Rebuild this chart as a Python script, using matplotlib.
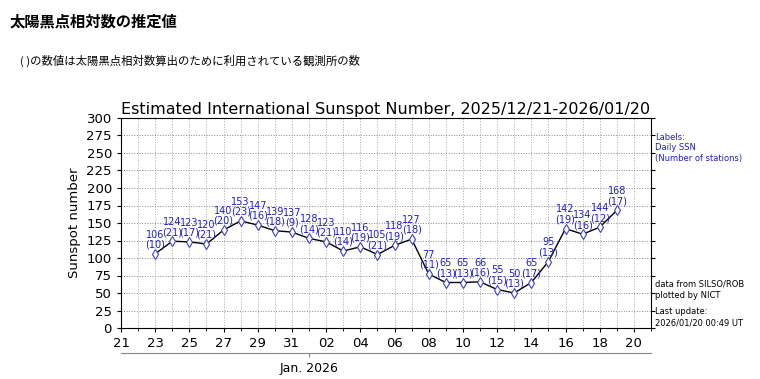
import matplotlib
matplotlib.use("Agg")
import matplotlib.pyplot as plt
import matplotlib.dates as mdates
import pandas as pd

# daily estimated sunspot number and number of stations
days = pd.date_range("2025-12-23", "2026-01-19", freq="D")
ssn = [106, 124, 123, 120, 140, 153, 147, 139, 137, 128, 123, 110, 116, 105,
       118, 127, 77, 65, 65, 66, 55, 50, 65, 95, 142, 134, 144, 168]
stations = [10, 21, 17, 21, 20, 23, 16, 18, 9, 14, 21, 14, 19, 21,
            19, 18, 11, 13, 13, 16, 15, 13, 17, 13, 19, 16, 12, 17]

x_start = pd.Timestamp("2025-12-21")
x_end = pd.Timestamp("2026-01-21")
tick_days = pd.date_range("2025-12-21", "2026-01-20", freq="2D")
yticks = list(range(0, 301, 25))

page_title = "太陽黒点相対数の推定値"
page_note = "( )の数値は太陽黒点相対数算出のために利用されている観測所の数"
chart_title = "Estimated International Sunspot Number, 2025/12/21-2026/01/20"

blue = "#1f1fc8"

fig = plt.figure(figsize=(7.6, 3.79), dpi=100)
fig.text(10 / 760, 1 - 21 / 379, page_title, fontsize=11, fontweight="bold",
         family=["Noto Sans CJK JP", "DejaVu Sans"], va="center", ha="left")
fig.text(20 / 760, 1 - 61 / 379, page_note, fontsize=8.2,
         family=["Noto Sans CJK JP", "DejaVu Sans"], va="center", ha="left")

ax = fig.add_axes([121 / 760, 51 / 379, 530 / 760, 210 / 379])
ax.plot(days, ssn, color="black", lw=1, marker="d", ms=5,
        mfc="white", mec="#4040c0", mew=0.8, zorder=3)
for d, v, n in zip(days, ssn, stations):
    ax.annotate(f"{v}\n({n})", (d, v), xytext=(0, 3), textcoords="offset points",
                ha="center", va="bottom", fontsize=7, color=blue,
                linespacing=1.0)

ax.set_xlim(x_start, x_end)
ax.set_ylim(0, 300)
ax.set_yticks(yticks)
ax.set_xticks(tick_days)
ax.xaxis.set_major_formatter(mdates.DateFormatter("%d"))
ax.xaxis.set_minor_locator(mdates.DayLocator())
ax.grid(True, which="both", axis="x", color="#aaaaaa", ls=":", lw=0.7)
ax.grid(True, which="major", axis="y", color="#888888", ls=":", lw=0.7)
ax.tick_params(labelsize=9.5, length=3)
ax.tick_params(axis="y", right=True)
ax.tick_params(which="minor", length=2)
ax.set_ylabel("Sunspot number", fontsize=9.5)
ax.set_title(chart_title, fontsize=11.5, pad=3)

sec = ax.secondary_xaxis(-0.12)
sec.set_xticks([pd.Timestamp("2026-01-01")])
sec.set_xticklabels(["Jan. 2026"])
sec.tick_params(labelsize=9, length=3, color="#888888")
sec.spines["bottom"].set_color("#888888")

fig.text(655 / 760, 1 - 148 / 379, "Labels:\nDaily SSN\n(Number of stations)",
         fontsize=6, color=blue, va="center", ha="left", linespacing=1.2)
fig.text(655 / 760, 1 - 290 / 379, "data from SILSO/ROB\nplotted by NICT",
         fontsize=6, color="black", va="center", ha="left", linespacing=1.4)
fig.text(655 / 760, 1 - 317 / 379, "Last update:\n2026/01/20 00:49 UT",
         fontsize=6, color="black", va="center", ha="left", linespacing=1.4)

fig.savefig("out.png", dpi=100)
